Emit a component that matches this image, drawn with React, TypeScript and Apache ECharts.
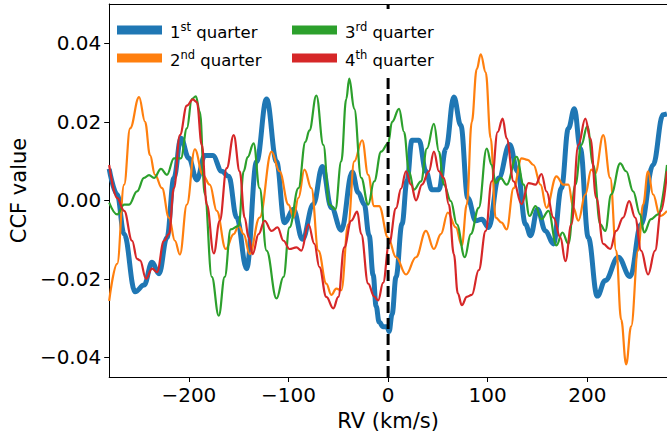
import React, { useEffect, useRef } from "react";
import * as echarts from "echarts";

// [RV (km/s), CCF value] pairs
const q1 = [
  [-280, 0.008], [-272, 0.0015], [-265, -0.0086], [-254, -0.0233], [-245, -0.0216], [-237, -0.0158],
  [-230, -0.0187], [-222, -0.0095], [-215, 0.0057], [-208, 0.0158], [-200, 0.0107], [-192, 0.0052],
  [-184, 0.0114], [-176, 0.0114], [-167, 0.0074], [-160, 0.0061], [-152, -0.0044], [-142, -0.0174],
  [-132, 0.0099], [-122, 0.0258], [-112, 0.0099], [-104, -0.0057], [-95, -0.0023], [-86, -0.0099],
  [-75, -0.001], [-66, 0.0086], [-57, -0.0019], [-47, -0.0076], [-36, 0.0072], [-30, 0.002],
  [-24, -0.001], [-19, -0.009], [-15, -0.019], [-12, -0.027], [-9, -0.031], [-5, -0.0322],
  [-1, -0.0322], [1, -0.0334], [4, -0.029], [8, -0.0195], [14, -0.006], [19, 0.005], [24, 0.0153],
  [31, 0.0153], [38, 0.0074], [44, 0.0027], [51, 0.0027], [58, 0.0132], [66, 0.0263], [73, 0.0191],
  [80, 0.0006], [88, -0.0052], [94, -0.0048], [101, -0.0069], [111, 0.0057], [122, 0.0142],
  [130, 0.0074], [138, -0.0061], [143, -0.009], [150, -0.0023], [158, -0.0078], [166, -0.0111],
  [174, 0.0031], [181, 0.0183], [187, 0.0233], [193, 0.0132], [201, -0.0095], [210, -0.0244],
  [218, -0.0204], [231, -0.0145], [243, -0.0194], [254, -0.0061], [266, 0.009], [276, 0.0218],
  [280, 0.022],
];

const q2 = [
  [-280, -0.0256], [-272, -0.0162], [-265, 0.004], [-259, 0.0183], [-250, 0.0263], [-244, 0.02],
  [-239, 0.0115], [-234, 0.0065], [-227, 0.0031], [-220, -0.0044], [-214, -0.0103], [-209, -0.0138],
  [-202, -0.0011], [-194, 0.013], [-186, 0.0065], [-179, 0.004], [-172, -0.0027], [-163, -0.0124],
  [-155, -0.0086], [-150, -0.0065], [-145, -0.0086], [-139, -0.0137], [-129, -0.0044], [-117, 0.0124],
  [-109, 0.0074], [-100, -0.0011], [-95, -0.0044], [-90, 0.0006], [-84, 0.0078], [-77, 0.0031],
  [-70, -0.0128], [-62, -0.0212], [-57, -0.0241], [-52, -0.0225], [-47, -0.0229], [-40, -0.0061],
  [-34, 0.0099], [-26, 0.0153], [-20, 0.0065], [-14, -0.0015], [-9, -0.0015], [0, -0.0095],
  [8, -0.0145], [18, -0.0189], [28, -0.0145], [38, -0.0078], [46, -0.0124], [53, -0.0086],
  [60, -0.0031], [68, -0.0069], [74, -0.0115], [79, -0.0011], [84, 0.02], [89, 0.0334], [93, 0.0372],
  [98, 0.0326], [103, 0.0158], [108, -0.0044], [114, -0.0057], [119, -0.0074], [126, 0.0031],
  [134, 0.0107], [140, 0.0103], [146, 0.009], [153, 0.004], [159, -0.0019], [169, 0.0061],
  [176, 0.004], [181, 0.004], [186, -0.0019], [191, -0.0052], [198, 0.0015], [204, 0.0078],
  [208, 0.0069], [216, 0.0166], [223, 0.0057], [229, -0.0128], [234, -0.0304], [239, -0.0418],
  [244, -0.0321], [251, -0.0128], [256, -0.0011], [261, 0.0074], [266, 0.0015], [273, -0.004],
  [280, -0.0027],
];

const q3 = [
  [-280, -0.0006], [-272, -0.0036], [-265, -0.0011], [-260, -0.0011], [-252, 0.0023], [-245, 0.0057],
  [-240, 0.0064], [-235, 0.0057], [-228, 0.008], [-222, 0.0065], [-215, 0.0107], [-208, 0.0107],
  [-202, 0.0183], [-197, 0.0258], [-193, 0.0265], [-189, 0.0225], [-184, 0.0015], [-177, -0.0195],
  [-170, -0.0294], [-164, -0.0195], [-158, -0.0074], [-150, -0.0065], [-145, 0.0074], [-141, 0.011],
  [-135, 0.0145], [-129, 0.0031], [-122, -0.0128], [-112, -0.025], [-105, -0.0195], [-99, -0.0069],
  [-90, 0.0031], [-83, 0.0149], [-79, 0.0178], [-72, 0.0267], [-65, 0.0141], [-59, -0.0011],
  [-53, -0.0023], [-47, 0.0099], [-42, 0.0258], [-39, 0.031], [-34, 0.0233], [-27, 0.0057],
  [-20, -0.0011], [-14, 0.0048], [-7, 0.0124], [0, 0.0145], [4, 0.02], [11, 0.0233], [16, 0.0174],
  [21, 0.0074], [26, 0.0027], [33, 0.0048], [39, 0.0132], [46, 0.0195], [51, 0.0124], [56, 0.004],
  [63, -0.0002], [69, -0.0061], [77, -0.0145], [83, -0.0086], [91, -0.0019], [99, 0.0132],
  [104, 0.009], [108, 0.0044], [113, 0.0057], [119, 0.004], [129, 0.0111], [136, 0.004],
  [142, -0.004], [148, -0.0015], [154, -0.0048], [161, -0.0027], [169, -0.0115], [175, -0.0082],
  [181, -0.0111], [188, 0.004], [194, 0.0141], [200, 0.0189], [206, 0.009], [213, -0.0061],
  [218, -0.0078], [224, 0.0015], [233, 0.0094], [239, 0.0074], [246, 0.0023], [253, -0.0036],
  [257, -0.0082], [264, -0.0048], [271, -0.0036], [280, 0.009],
];

const q4 = [
  [-280, 0.009], [-272, 0.0006], [-265, -0.0027], [-257, -0.0103], [-252, -0.0149], [-249, -0.0153],
  [-243, -0.02], [-237, -0.0174], [-232, -0.0183], [-225, -0.0103], [-220, -0.0086], [-215, 0.0031],
  [-209, 0.0166], [-202, 0.0241], [-196, 0.0257], [-192, 0.025], [-187, 0.0141], [-182, -0.0011],
  [-175, -0.0135], [-169, -0.0052], [-162, 0.0082], [-155, 0.0166], [-149, 0.0074], [-144, -0.0044],
  [-140, -0.0095], [-136, -0.0137], [-130, -0.0086], [-124, -0.0052], [-117, -0.0078], [-111, -0.0069],
  [-105, -0.0103], [-99, -0.0124], [-92, -0.012], [-87, -0.0128], [-80, -0.0061], [-74, -0.0111],
  [-69, -0.017], [-62, -0.0246], [-55, -0.0275], [-50, -0.0246], [-44, -0.012], [-37, -0.0052],
  [-31, -0.0029], [-27, -0.0086], [-20, -0.0212], [-14, -0.0245], [-10, -0.0255], [-5, -0.021],
  [1, -0.011], [8, -0.002], [13, 0.003], [18, 0.0074], [23, 0.004], [28, 0], [34, 0.004],
  [41, 0.0074], [46, 0.0124], [51, 0.0074], [56, 0.0057], [61, -0.0011], [66, -0.0137],
  [70, -0.0237], [74, -0.0267], [79, -0.0246], [84, -0.0241], [91, -0.0178], [98, -0.0078],
  [104, 0.0048], [110, 0.0174], [115, 0.0208], [119, 0.0158], [126, 0.0048], [134, -0.001],
  [141, 0.0044], [148, 0.004], [154, 0.0067], [159, 0.0023], [166, -0.0044], [173, -0.0095],
  [178, -0.0155], [184, -0.0061], [191, 0.0141], [198, 0.0208], [203, 0.0158], [209, 0.0006],
  [216, -0.0111], [223, -0.0124], [229, -0.0078], [236, -0.0044], [242, -0.0002], [248, -0.0044],
  [254, -0.0128], [261, -0.0189], [268, -0.0128], [274, -0.0027], [280, 0.0074],
];

const xTicks = [-200, -100, 0, 100, 200];
const yTicks = [-0.04, -0.02, 0, 0.02, 0.04];
const xRange = [-280, 280];
const yRange = [-0.045, 0.05];
const vLineRV = 0;

const seriesNames = ["1st quarter", "2nd quarter", "3rd quarter", "4th quarter"];
const legendNum = ["1", "2", "3", "4"];
const legendSup = ["st", "nd", "rd", "th"];
const colors = ["#1f77b4", "#ff7f0e", "#2ca02c", "#d62728"];
const widths = [5, 2.2, 2.2, 2.2];
const allData = [q1, q2, q3, q4];

const FONT = "DejaVu Sans";

export default function App() {
  const ref = useRef<HTMLDivElement>(null);
  useEffect(() => {
    if (!ref.current) return;
    const chart = echarts.init(ref.current, null, { renderer: "svg" });
    const fmtY = (v: number) =>
      (v < -1e-9 ? "\u2212" : "") + Math.abs(v).toFixed(2);
    const fmtX = (v: number) => (v < 0 ? "\u2212" : "") + Math.abs(v).toString();

    const legendPos = [
      [117, 30],
      [117, 58],
      [292, 30],
      [292, 58],
    ];
    const legendGraphics: any[] = [
      {
        type: "rect",
        z: 100,
        shape: { x: 110, y: 13, width: 336, height: 62 },
        style: { fill: "#fff" },
        silent: true,
      },
    ];
    legendPos.forEach((p, i) => {
      legendGraphics.push({
        type: "rect",
        z: 101,
        shape: { x: p[0], y: p[1] - 4.5, width: 45, height: 9 },
        style: { fill: colors[i] },
        silent: true,
      });
      legendGraphics.push({
        type: "text",
        z: 101,
        x: p[0] + 53,
        y: p[1] + 1,
        silent: true,
        style: {
          text: `{n|${legendNum[i]}}{s|${legendSup[i]}}{n| quarter}`,
          verticalAlign: "middle",
          rich: {
            n: { fontSize: 16.5, fontFamily: FONT, fill: "#000", lineHeight: 20, verticalAlign: "bottom" },
            s: { fontSize: 11.5, fontFamily: FONT, fill: "#000", lineHeight: 12, verticalAlign: "top" },
          },
        },
      });
    });

    const option: any = {
      animation: false,
      backgroundColor: "#fff",
      grid: { left: 107, right: 0, top: 4, bottom: 55, containLabel: false },
      xAxis: [
        {
          type: "value",
          min: xRange[0],
          max: xRange[1],
          position: "bottom",
          name: "RV (km/s)",
          nameLocation: "middle",
          nameGap: 33,
          nameTextStyle: { fontSize: 21, fontFamily: FONT, color: "#000" },
          axisLine: { show: true, onZero: false, lineStyle: { color: "#000", width: 1 } },
          axisTick: { show: true, customValues: xTicks, length: 5, lineStyle: { color: "#000", width: 1 } },
          axisLabel: { customValues: xTicks, fontSize: 20, fontFamily: FONT, color: "#000", margin: 8, formatter: fmtX },
          splitLine: { show: false },
        },
        {
          type: "value",
          min: xRange[0],
          max: xRange[1],
          position: "top",
          axisLine: { show: true, onZero: false, lineStyle: { color: "#000", width: 1 } },
          axisTick: { show: false },
          axisLabel: { show: false },
          splitLine: { show: false },
        },
      ],
      yAxis: {
        type: "value",
        min: yRange[0],
        max: yRange[1],
        name: "CCF value",
        nameLocation: "middle",
        nameGap: 78,
        nameTextStyle: { fontSize: 21, fontFamily: FONT, color: "#000" },
        axisLine: { show: true, onZero: false, lineStyle: { color: "#000", width: 1 } },
        axisTick: { show: true, customValues: yTicks, length: 5, lineStyle: { color: "#000", width: 1 } },
        axisLabel: { customValues: yTicks, fontSize: 20, fontFamily: FONT, color: "#000", margin: 8, formatter: fmtY },
        splitLine: { show: false },
      },
      series: [
        ...allData.map((d, i) => ({
          name: seriesNames[i],
          type: "line",
          data: d,
          smooth: 0.4,
          smoothMonotone: "x",
          showSymbol: false,
          symbol: "none",
          clip: true,
          lineStyle: { color: colors[i], width: widths[i] },
          itemStyle: { color: colors[i] },
          z: 2 + i,
          silent: true,
        })),
        {
          name: "RV = 0",
          type: "line",
          data: [
            [vLineRV, yRange[0]],
            [vLineRV, yRange[1]],
          ],
          symbol: "none",
          lineStyle: { color: "#000", width: 3, type: [11, 5] },
          z: 10,
          silent: true,
        },
      ],
      graphic: legendGraphics,
    };
    chart.setOption(option);
    return () => chart.dispose();
  }, []);
  return (
    <div
      ref={ref}
      style={{ position: "fixed", left: 0, top: 0, width: 667, height: 436, background: "#fff" }}
    />
  );
}
